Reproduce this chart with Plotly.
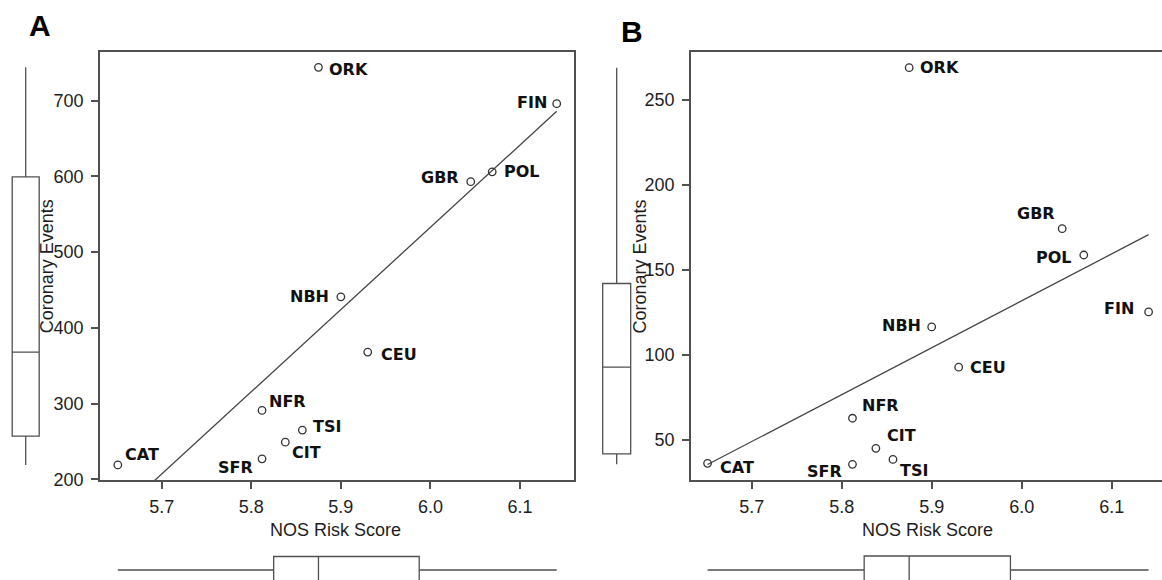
import numpy as np
import plotly.graph_objects as go

# Population-level NOS risk score against coronary event counts (two outcome sets)
populations = ["CAT", "SFR", "NFR", "CIT", "TSI", "ORK", "NBH", "CEU", "GBR", "POL", "FIN"]
nos_risk_score = [5.651, 5.812, 5.812, 5.838, 5.857, 5.875, 5.900, 5.930, 6.045, 6.069, 6.141]
coronary_events_a = [219, 227, 291, 249, 265, 744, 441, 368, 593, 606, 696]
coronary_events_b = [36.3, 35.7, 62.8, 45.1, 38.6, 269, 116.5, 92.8, 174.3, 158.8, 125.3]

x_ticks = [5.7, 5.8, 5.9, 6.0, 6.1]
y_ticks_a = [200, 300, 400, 500, 600, 700]
y_ticks_b = [50, 100, 150, 200, 250]

# label offsets (px) from each point: (right, down)
label_offsets_a = {
    "ORK": (30, 2), "FIN": (-25, -1), "POL": (30, 0), "GBR": (-31, -4),
    "NBH": (-31, 0), "CEU": (31, 2), "TSI": (25, -4), "CIT": (21, 10),
    "NFR": (25, -9), "SFR": (-27, 9), "CAT": (24, -10),
}
label_offsets_b = {
    "ORK": (30, 0), "GBR": (-26, -15), "POL": (-30, 2), "FIN": (-30, -3),
    "NBH": (-30, -1), "CEU": (29, 0), "NFR": (28, -13), "CIT": (26, -13),
    "TSI": (21, 11), "SFR": (-28, 7), "CAT": (29, 4),
}

# layout grid is laid out on a 1162 x 580 canvas; the page itself is
# rendered slightly taller so the whole canvas fills the view
W, H_GRID = 1162, 580
H_PAGE = 590
AX = "#505050"
TXT = "#1e1e1e"
TICK_FONT = dict(family="Liberation Sans, Arial, sans-serif", size=18, color=TXT)
LABEL_FONT = dict(family="DejaVu Sans, Verdana, sans-serif", size=16, color="#111111")


def px(x):
    return x / W


def py(y):
    return 1 - y / H_GRID


def box_range_h(lo, hi, centre, width):
    # horizontal pixel span -> data range with box centred at 0, width 1
    return [(lo - centre) / width, (hi - centre) / width]


def box_range_v(top, bottom, centre, width):
    # vertical pixel span (top < bottom in px) -> data range
    return [(centre - bottom) / width, (centre - top) / width]


fig = go.Figure()

panels = [
    dict(xa="x", ya="y", yv=coronary_events_a, offs=label_offsets_a,
         bx="x3", by="y3"),
    dict(xa="x2", ya="y2", yv=coronary_events_b, offs=label_offsets_b,
         bx="x4", by="y4"),
]

annotations = []
for p in panels:
    xs = np.array(nos_risk_score)
    ys = np.array(p["yv"], dtype=float)
    slope, intercept = np.polyfit(xs, ys, 1)
    xfit = np.array([xs.min(), xs.max()])
    fig.add_trace(go.Scatter(
        x=xfit, y=slope * xfit + intercept, mode="lines",
        line=dict(color="#444444", width=1.3), xaxis=p["xa"], yaxis=p["ya"],
        hoverinfo="skip", showlegend=False))
    fig.add_trace(go.Scatter(
        x=xs, y=ys, mode="markers", text=populations,
        marker=dict(symbol="circle-open", size=7.5, color="#333333",
                    line=dict(width=1.3)),
        xaxis=p["xa"], yaxis=p["ya"], showlegend=False))
    for name, xv, yv in zip(populations, xs, ys):
        dx, dy = p["offs"][name]
        annotations.append(dict(
            x=xv, y=yv, xref=p["xa"], yref=p["ya"], text=f"<b>{name}</b>",
            showarrow=False, xshift=dx, yshift=-dy, font=LABEL_FONT,
            xanchor="center", yanchor="middle"))
    # marginal boxplots
    fig.add_trace(go.Box(
        y=ys, x0=0, width=1, xaxis=p["bx"], yaxis=p["ya"],
        boxpoints=False, whiskerwidth=0, quartilemethod="inclusive",
        fillcolor="white", line=dict(color=AX, width=1.3),
        hoverinfo="skip", showlegend=False))
    fig.add_trace(go.Box(
        x=xs, y0=0, width=1, orientation="h", xaxis=p["xa"], yaxis=p["by"],
        boxpoints=False, whiskerwidth=0, quartilemethod="inclusive",
        fillcolor="white", line=dict(color=AX, width=1.3),
        hoverinfo="skip", showlegend=False))

common = dict(showline=True, linecolor=AX, linewidth=1.5, ticks="outside",
              ticklen=7, tickwidth=1.5, tickcolor=AX, showgrid=False,
              zeroline=False, tickfont=TICK_FONT)
hidden = dict(visible=False, showgrid=False, zeroline=False, fixedrange=True)

Y_DOM = [py(480), py(52)]

fig.update_layout(
    width=W, height=H_PAGE, autosize=False, margin=dict(l=0, r=0, t=0, b=0, pad=0),
    paper_bgcolor="white", plot_bgcolor="white", showlegend=False,
    xaxis=dict(domain=[px(100), px(574)], range=[5.6311, 6.1603], anchor="y",
               mirror=True, tickvals=x_ticks, tickformat=".1f",
               ticklabelstandoff=3, **common),
    yaxis=dict(domain=Y_DOM, range=[199.1, 764.3], anchor="x", mirror=True,
               tickvals=y_ticks_a, ticklabelstandoff=4, **common),
    xaxis2=dict(domain=[px(691), 1.0], range=[5.6326, 6.1559], anchor="y2",
                mirror=True, tickvals=x_ticks, tickformat=".1f",
                ticklabelstandoff=3, **common),
    yaxis2=dict(domain=Y_DOM, range=[26.47, 278.2], anchor="x2", mirror=False,
                tickvals=y_ticks_b, ticklabelstandoff=4, **common),
    xaxis3=dict(domain=[0, px(60)], range=box_range_h(0, 60, 25.7, 27),
                anchor="y", **hidden),
    yaxis3=dict(domain=[0, py(548)], range=box_range_v(548, H_GRID, 570, 27),
                anchor="x", **hidden),
    xaxis4=dict(domain=[px(590), px(650)], range=box_range_h(590, 650, 616.7, 28),
                anchor="y2", **hidden),
    yaxis4=dict(domain=[0, py(548)], range=box_range_v(548, H_GRID, 570, 28),
                anchor="x2", **hidden),
)

title_font = dict(family="Liberation Sans, Arial, sans-serif", size=18, color=TXT)
for xc in (46.7, 639):
    annotations.append(dict(x=px(xc), y=py(266.5), xref="paper", yref="paper",
                            text="Coronary Events", textangle=-90,
                            showarrow=False, font=title_font,
                            xanchor="center", yanchor="middle"))
for xc in (335.4, 927):
    annotations.append(dict(x=px(xc), y=py(530), xref="paper", yref="paper",
                            text="NOS Risk Score", showarrow=False,
                            font=title_font, xanchor="center", yanchor="middle"))

letter_font = dict(family="Liberation Sans, Arial, sans-serif", size=30, color="#000000")
for letter, xc, yc in (("A", 39.5, 26), ("B", 632, 31)):
    annotations.append(dict(x=px(xc), y=py(yc), xref="paper", yref="paper",
                            text=f"<b>{letter}</b>", showarrow=False,
                            font=letter_font, xanchor="center", yanchor="middle"))

fig.update_layout(annotations=annotations)
fig.write_html("out.html")
